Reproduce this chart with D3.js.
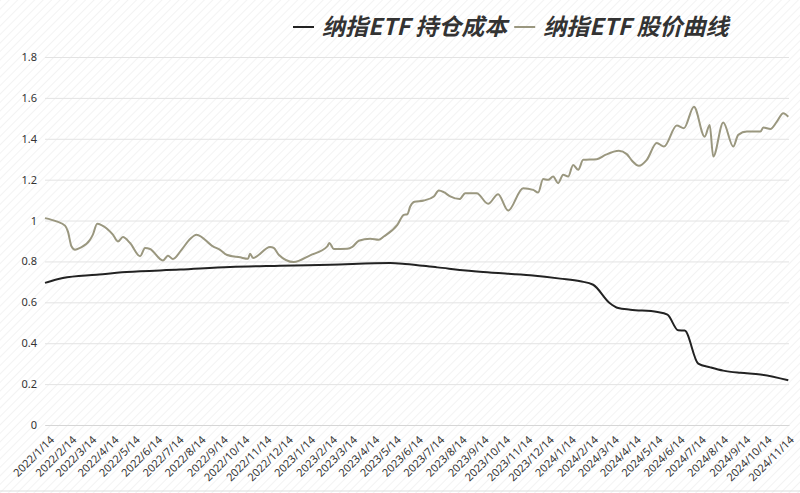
<!DOCTYPE html>
<html>
<head>
<meta charset="utf-8">
<script src="https://cdn.jsdelivr.net/npm/d3@7"></script>
<style>
  html, body { margin: 0; padding: 0; background: #fff; }
  .chart text { font-family: "Noto Sans", "Noto Sans CJK SC", sans-serif; }
</style>
</head>
<body>
<div class="chart"></div>
<script>
// 纳指ETF 持仓成本 (cost) and 股价曲线 (price)
var costDates = ["2022-01-14","2022-02-08","2022-03-27","2022-05-08","2022-07-22","2022-09-30","2022-12-09",
  "2023-02-17","2023-05-12","2023-06-02","2023-07-17","2023-09-19","2023-11-24","2024-01-05","2024-02-02",
  "2024-02-20","2024-03-14","2024-03-26","2024-04-12","2024-05-20","2024-06-03","2024-06-18","2024-06-27",
  "2024-07-16","2024-08-02","2024-08-20","2024-09-13","2024-10-11","2024-11-19"];
var costValues = [0.695,0.719,0.735,0.748,0.760,0.773,0.779,
  0.784,0.792,0.788,0.771,0.748,0.732,0.716,0.703,
  0.686,0.597,0.572,0.564,0.553,0.540,0.463,0.462,
  0.300,0.282,0.266,0.255,0.247,0.219];

var priceDates = ["2022-01-14","2022-01-30","2022-02-11","2022-02-15","2022-02-20","2022-02-25","2022-03-04",
  "2022-03-18","2022-03-22","2022-03-28","2022-04-03","2022-04-19","2022-04-26","2022-05-03","2022-05-13",
  "2022-05-27","2022-06-03","2022-06-10","2022-06-28","2022-07-05","2022-07-12","2022-07-24","2022-08-05",
  "2022-08-14","2022-09-06","2022-09-16","2022-09-25","2022-10-14","2022-10-25","2022-10-28","2022-11-01",
  "2022-11-25","2022-11-30","2022-12-07","2022-12-28","2023-01-20","2023-02-13","2023-02-16","2023-02-22",
  "2023-03-13","2023-03-20","2023-03-29","2023-04-14","2023-04-26","2023-05-03","2023-05-22","2023-05-31",
  "2023-06-05","2023-06-09","2023-06-15","2023-06-28","2023-07-12","2023-07-19","2023-07-26","2023-08-04",
  "2023-08-17","2023-08-25","2023-09-10","2023-09-26","2023-10-10","2023-10-24","2023-11-14","2023-11-28",
  "2023-12-05","2023-12-12","2023-12-19","2023-12-26","2024-01-02","2024-01-09","2024-01-16","2024-01-23",
  "2024-01-30","2024-02-06","2024-02-25","2024-03-08","2024-03-27","2024-04-07","2024-04-14","2024-04-24",
  "2024-05-05","2024-05-19","2024-05-29","2024-06-16","2024-06-26","2024-07-10","2024-07-25","2024-08-01",
  "2024-08-06","2024-08-20","2024-09-03","2024-09-10","2024-09-22","2024-10-11","2024-10-15","2024-10-25",
  "2024-11-03","2024-11-12","2024-11-19"];
var priceValues = [1.012,0.996,0.975,0.947,0.874,0.857,0.866,
  0.906,0.931,0.984,0.978,0.931,0.898,0.919,0.890,
  0.825,0.866,0.861,0.805,0.828,0.812,0.857,0.910,
  0.931,0.874,0.857,0.833,0.820,0.813,0.838,0.817,
  0.871,0.866,0.833,0.797,0.830,0.874,0.890,0.861,
  0.862,0.871,0.901,0.911,0.906,0.922,0.979,1.028,
  1.031,1.069,1.092,1.098,1.118,1.147,1.139,1.118,
  1.105,1.134,1.134,1.082,1.129,1.049,1.158,1.150,
  1.137,1.203,1.199,1.215,1.183,1.224,1.215,1.272,
  1.248,1.297,1.300,1.321,1.341,1.325,1.294,1.268,
  1.297,1.379,1.362,1.465,1.452,1.557,1.410,1.468,
  1.313,1.480,1.362,1.419,1.435,1.435,1.455,1.448,
  1.484,1.525,1.508];

var xTickLabels = ["2022/1/14","2022/2/14","2022/3/14","2022/4/14","2022/5/14","2022/6/14","2022/7/14",
  "2022/8/14","2022/9/14","2022/10/14","2022/11/14","2022/12/14","2023/1/14","2023/2/14","2023/3/14",
  "2023/4/14","2023/5/14","2023/6/14","2023/7/14","2023/8/14","2023/9/14","2023/10/14","2023/11/14",
  "2023/12/14","2024/1/14","2024/2/14","2024/3/14","2024/4/14","2024/5/14","2024/6/14","2024/7/14",
  "2024/8/14","2024/9/14","2024/10/14","2024/11/14"];
var yTicks = [0, 0.2, 0.4, 0.6, 0.8, 1, 1.2, 1.4, 1.6, 1.8];

var seriesNames = ["纳指ETF 持仓成本", "纳指ETF 股价曲线"];
var seriesColors = ["#222222", "#9a977f"];

var width = 800, height = 493;
var margin = { top: 57, right: 11, bottom: 68, left: 45 };

var parse = d3.timeParse("%Y-%m-%d");
var parseTick = d3.timeParse("%Y/%m/%d");

var cost = costDates.map(function(d, i) { return { date: parse(d), value: costValues[i] }; });
var price = priceDates.map(function(d, i) { return { date: parse(d), value: priceValues[i] }; });
var tickDates = xTickLabels.map(function(d) { return parseTick(d); });

var svg = d3.select(".chart").append("svg")
  .attr("width", width)
  .attr("height", height);

// faint diagonal hatching on the background
var defs = svg.append("defs");
var pat = defs.append("pattern")
  .attr("id", "hatch")
  .attr("patternUnits", "userSpaceOnUse")
  .attr("width", 6).attr("height", 6)
  .attr("patternTransform", "rotate(45)");
pat.append("rect").attr("width", 6).attr("height", 6).attr("fill", "#ffffff");
pat.append("line").attr("x1", 0).attr("y1", 0).attr("x2", 0).attr("y2", 6)
  .attr("stroke", "#f3f3f3").attr("stroke-width", 2);

svg.append("rect").attr("width", width).attr("height", height).attr("fill", "url(#hatch)");

var x = d3.scaleTime()
  .domain([parse("2022-01-14"), parse("2024-11-20")])
  .range([margin.left, width - margin.right]);

var y = d3.scaleLinear()
  .domain([0, 1.8])
  .range([height - margin.bottom, margin.top]);

// grid + y labels
var yAxis = svg.append("g")
  .attr("transform", "translate(" + margin.left + ",0)")
  .call(d3.axisLeft(y).tickValues(yTicks).tickSize(-(width - margin.left - margin.right)).tickPadding(8)
    .tickFormat(function(d) { return d3.format("~g")(d); }));
yAxis.select(".domain").remove();
yAxis.selectAll(".tick line").attr("stroke", "#e3e3e3");
yAxis.selectAll(".tick text").attr("fill", "#333").attr("font-size", 11);

// x labels
var xAxis = svg.append("g")
  .attr("transform", "translate(0," + (height - margin.bottom) + ")")
  .call(d3.axisBottom(x).tickValues(tickDates).tickSize(0).tickPadding(0)
    .tickFormat(function(d, i) { return xTickLabels[i]; }));
xAxis.select(".domain").attr("stroke", "#d6d6d6");
xAxis.selectAll(".tick text")
  .attr("fill", "#333")
  .attr("font-size", 11)
  .attr("text-anchor", "end")
  .attr("x", 0).attr("y", 0)
  .attr("dy", "0.71em")
  .attr("transform", "translate(4,10) rotate(-45)");

var line = d3.line()
  .x(function(d) { return x(d.date); })
  .y(function(d) { return y(d.value); })
  .curve(d3.curveMonotoneX);

svg.append("path").datum(price)
  .attr("d", line)
  .attr("fill", "none")
  .attr("stroke", seriesColors[1])
  .attr("stroke-width", 2);

svg.append("path").datum(cost)
  .attr("d", line)
  .attr("fill", "none")
  .attr("stroke", seriesColors[0])
  .attr("stroke-width", 2);

// legend
var legend = svg.append("g").attr("transform", "translate(293,27)");
var lx = 0;
seriesNames.forEach(function(name, i) {
  var g = legend.append("g").attr("transform", "translate(" + lx + ",0)");
  g.append("line").attr("x1", 0).attr("x2", 21).attr("y1", 0).attr("y2", 0)
    .attr("stroke", seriesColors[i]).attr("stroke-width", 2);
  var t = g.append("text")
    .attr("x", 29).attr("y", 0).attr("dy", "0.36em")
    .attr("fill", "#333")
    .attr("font-size", 23)
    .attr("font-weight", "bold")
    .attr("font-style", "italic")
    .style("font-family", "'Noto Sans CJK SC', sans-serif")
    .text(name);
  lx += 29 + t.node().getComputedTextLength() + 7;
});

// slim slider line at the bottom
svg.append("line").attr("x1", 0).attr("x2", width).attr("y1", 491).attr("y2", 491)
  .attr("stroke", "#dddddd");
</script>
</body>
</html>
